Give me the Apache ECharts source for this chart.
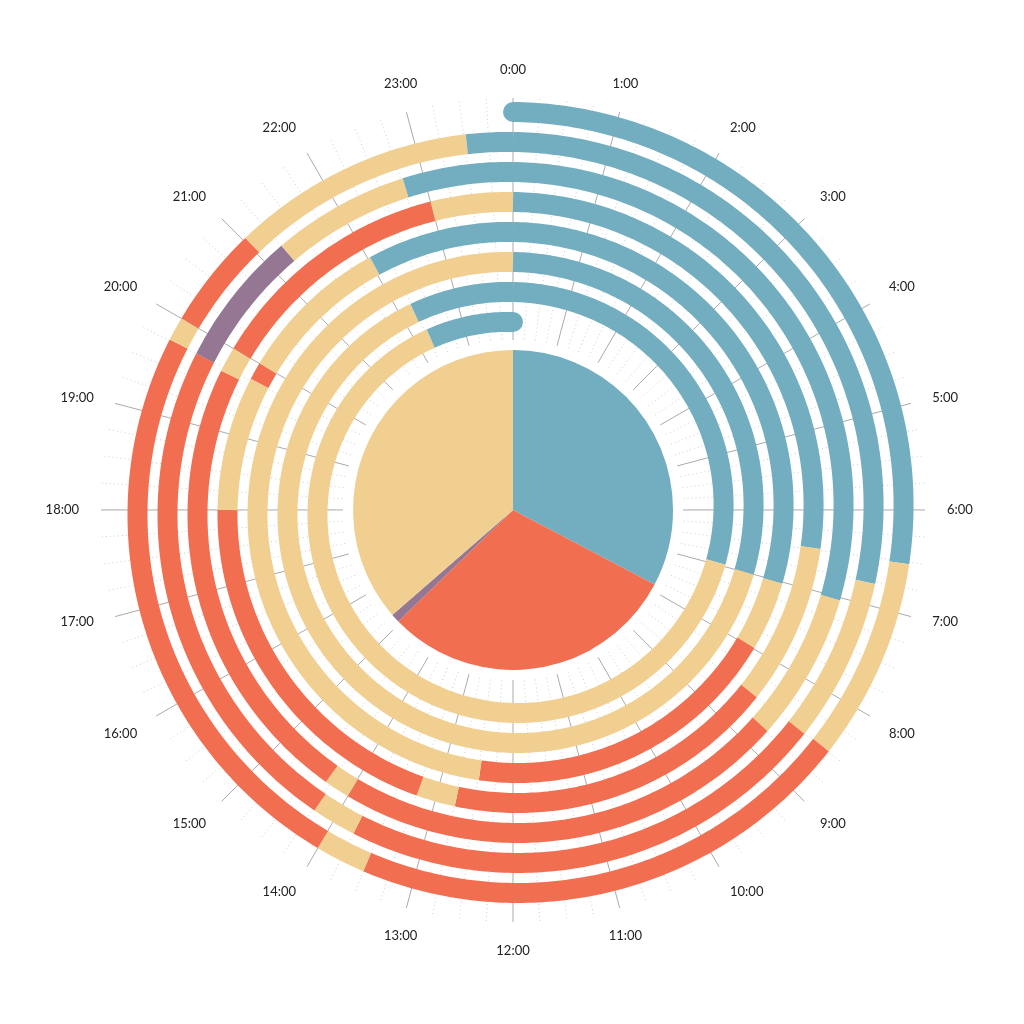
<!DOCTYPE html>
<html><head><meta charset="utf-8">
<script src="https://cdn.jsdelivr.net/npm/echarts@6/dist/echarts.min.js"></script>
<style>html,body{margin:0;padding:0;background:#fff}#c{width:1024px;height:1024px}</style>
</head><body><div id="c"></div>
<script>
// Activity colours
var categories = ['sleep', 'work', 'other', 'misc'];
var colors = {sleep: '#72AEC0', work: '#F26E50', other: '#F1CF91', misc: '#957794'};
// Hour tick labels
var hourLabels = [];
for (var h = 0; h < 24; h++) hourLabels.push(h + ':00');
// Spiral segments: [startHour, endHour, category], hours counted from the first 0:00 over 7 days
var day0 = [[0, 6.52, 'sleep'], [6.52, 8.49, 'other'], [8.49, 13.5, 'work'], [13.5, 14.0, 'other'], [14.0, 19.76, 'work'], [19.76, 20.0, 'other'], [20.0, 21.03, 'work'], [21.03, 23.52, 'other'], [23.52, 24, 'sleep']];
var day1 = [[24, 30.77, 'sleep'], [30.77, 32.5, 'other'], [32.5, 37.75, 'work'], [37.75, 38.23, 'other'], [38.23, 43.75, 'work'], [43.75, 45.25, 'misc'], [45.25, 46.77, 'other'], [46.77, 48, 'sleep']];
var day2 = [[48, 55.03, 'sleep'], [55.03, 56.73, 'other'], [56.73, 62.0, 'work'], [62.0, 62.3, 'other'], [62.3, 67.7, 'work'], [67.7, 68.0, 'other'], [68.0, 71.0, 'work'], [71.0, 72, 'other']];
var day3 = [[72, 78.48, 'sleep'], [78.48, 80.5, 'other'], [80.5, 84.74, 'work'], [84.74, 85.24, 'other'], [85.24, 90.0, 'work'], [90.0, 91.77, 'other'], [91.77, 92.0, 'work'], [92.0, 94.03, 'other'], [94.03, 96, 'sleep']];
var day4 = [[96, 103.02, 'sleep'], [103.02, 103.98, 'other'], [103.98, 108.48, 'work'], [108.48, 120, 'other']];
var day5 = [[120, 127.0, 'sleep'], [127.0, 142.23, 'other'], [142.23, 144, 'sleep']];
var day6 = [[144, 150.96, 'sleep'], [150.96, 166.29, 'other'], [166.29, 168, 'sleep']];
// Pie shares (degrees)
var pieNames = ['sleep', 'work', 'misc', 'other'];
var pieValues = [117.8, 108, 3.2, 131];

var segments = [].concat(day0, day1, day2, day3, day4, day5, day6);
var TOTAL = 168;
function ringR(t) { return 398 - 30 * t / 24; }

var chart = echarts.init(document.getElementById('c'));
chart.setOption({
  animation: false,
  polar: {center: ['50.1%', '49.8%'], radius: [170, 412]},
  angleAxis: {
    type: 'value', min: 0, max: 24, interval: 1, startAngle: 90, clockwise: true,
    axisLine: {show: false}, axisTick: {show: false},
    axisLabel: {margin: 22, color: '#222', fontSize: 13, fontFamily: 'Lato',
      formatter: function (v) { return v >= 24 ? '' : hourLabels[v]; }},
    splitLine: {show: true, lineStyle: {color: '#aaa', width: 1}},
    minorTick: {show: false, splitNumber: 4},
    minorSplitLine: {show: true, lineStyle: {color: '#ccc', type: [1, 3], width: 1}}
  },
  radiusAxis: {type: 'value', min: 170, max: 412, show: false,
    axisLine: {show: false}, axisLabel: {show: false}, splitLine: {show: false}, axisTick: {show: false}},
  series: [{
    type: 'custom', coordinateSystem: 'polar', silent: true,
    data: segments.map(function (s) { return [s[0], s[1], categories.indexOf(s[2])]; }),
    renderItem: function (params, api) {
      var a = api.value(0), b = api.value(1), c = categories[api.value(2)];
      var pts = [];
      var n = Math.max(2, Math.ceil((b - a) / 0.05));
      for (var i = 0; i <= n; i++) {
        var t = a + (b - a) * i / n;
        pts.push(api.coord([ringR(t), t % 24 === 0 && t > 0 && i === n ? 24 : t % 24]));
      }
      var children = [{type: 'polyline', shape: {points: pts},
        style: {stroke: colors[c], lineWidth: 20, fill: null, lineCap: 'butt'}}];
      if (a === 0) children.push({type: 'circle', shape: {cx: pts[0][0], cy: pts[0][1], r: 10}, style: {fill: colors[c]}});
      if (b === TOTAL) children.push({type: 'circle', shape: {cx: pts[n][0], cy: pts[n][1], r: 10}, style: {fill: colors[c]}});
      return {type: 'group', children: children};
    }
  }, {
    type: 'pie', center: ['50.1%', '49.8%'], radius: [0, 160], startAngle: 90, clockwise: true,
    silent: true, label: {show: false}, labelLine: {show: false},
    data: pieNames.map(function (n, i) { return {name: n, value: pieValues[i], itemStyle: {color: colors[n]}}; })
  }]
});
</script></body></html>
